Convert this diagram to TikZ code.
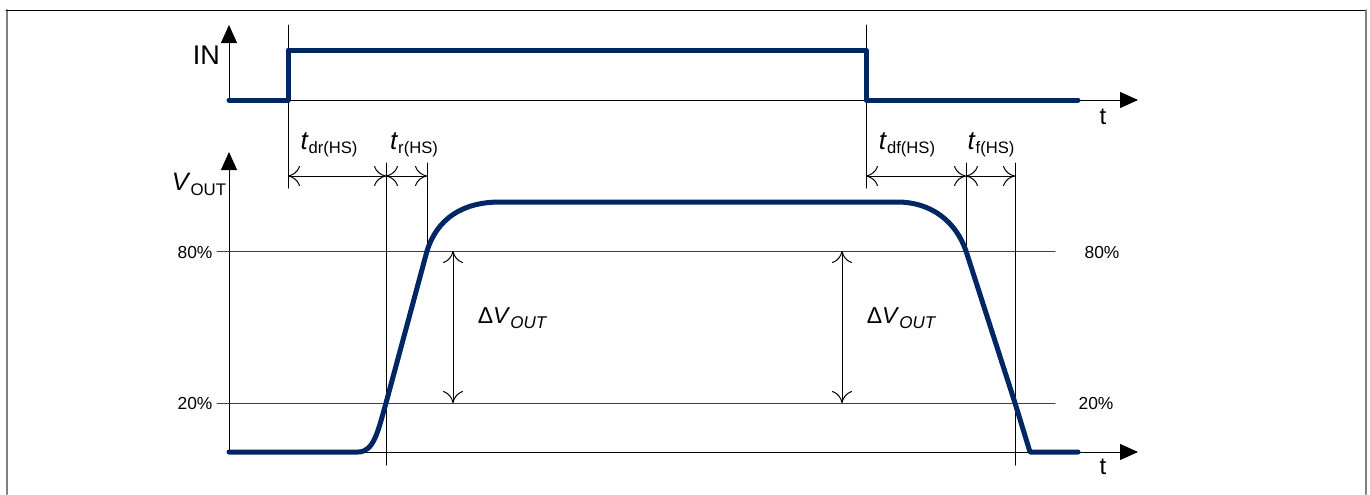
\documentclass[tikz,border=0pt]{standalone}
\usepackage{fontspec}
\setmainfont{Liberation Sans}
\usetikzlibrary{arrows.meta}
\definecolor{wavecol}{RGB}{0,38,100}
\newcommand{\tlab}[1]{\textit{t}\raisebox{-2pt}{\fontsize{8.3}{9}\selectfont #1}}
\newcommand{\vlab}[1]{\textit{V}\raisebox{-2.5pt}{\fontsize{8.4}{9}\selectfont #1}}
\begin{document}
\begin{tikzpicture}[x=.5pt, y=-.5pt, line join=round, line cap=round,
		wave/.style={wavecol, line width=2.5pt},
		axis/.style={line width=.5pt, -{Triangle[length=9pt,width=8pt]}},
		level/.style={black!75, line width=.5pt},
		guide/.style={line width=.5pt},
		dim/.style={line width=.5pt, {To[length=6pt,width=10pt]}-{To[length=6pt,width=10pt]}},
		big/.style={font=\fontsize{13.5}{15}\selectfont},
		pct/.style={font=\fontsize{8.7}{10}\selectfont},
		tfont/.style={font=\fontsize{13}{15}\selectfont},
		dv/.style={font=\fontsize{11.5}{13}\selectfont}]
		\useasboundingbox(0,0)rectangle(1370,494);
		% frame
		\draw[gray, line width=1pt](7,494)--(7,10);
		\draw[line width=.5pt](6,10)--(1366,10);
		\draw[gray, line width=1pt](1366,10)--(1366,494);
		% input
		\draw[axis](229,100)--(229,25);
		\draw[axis](229,100)--(1138,100);
		\node[big, anchor=east] (inlab) at (227,55) {IN};
		\node[font=\fontsize{12}{14}\selectfont] (tin) at (1103,117) {t};
		\draw[guide](288,25)--(288,188);
		\draw[guide](866,25)--(866,188);
		\draw[wave](229,100)--(288,100)--(288,50)--(866,50)--(866,100)--(1078,100);
		% output
		\draw[axis](229,452)--(229,152);
		\draw[axis](229,452)--(1138,452);
		\node[font=\fontsize{12.6}{14}\selectfont] (vout) at (199,184) {\vlab{OUT}};
		\node[font=\fontsize{12}{14}\selectfont] (tout) at (1103,467) {t};
		\draw[level](217,251)--(1055,251);
		\draw[level](217,403)--(1055,403);
		\node[pct] (p80a) at (195,253) {80\%};
		\node[pct] (p20a) at (195,403) {20\%};
		\node[pct] (p80b) at (1102,253) {80\%};
		\node[pct] (p20b) at (1096,403) {20\%};
		\draw[guide](386,163)--(386,465);
		\draw[guide](427,163)--(427,251);
		\draw[guide](966,163)--(966,251);
		\draw[guide](1015,163)--(1015,465);
		\draw[dim](288,176)--(386,176);
		\draw[dim](386,176)--(427,176);
		\draw[dim](866,176)--(966,176);
		\draw[dim](966,176)--(1015,176);
		\node[tfont] (tdr) at (329,145) {\tlab{dr(HS)}};
		\node[tfont] (tr) at (414,145) {\tlab{r(HS)}};
		\node[tfont] (tdf) at (907,145) {\tlab{df(HS)}};
		\node[tfont] (tf) at (991,145) {\tlab{f(HS)}};
		\draw[dim](453,251)--(453,403);
		\draw[dim](842,251)--(842,403);
		\node[dv] (dva) at (512,318) {Δ\textit{V}\raisebox{-2.5pt}{\fontsize{8.5}{9}\selectfont\itshape OUT}};
		\node[dv] (dvb) at (901,318) {Δ\textit{V}\raisebox{-2.5pt}{\fontsize{8.5}{9}\selectfont\itshape OUT}};
		\draw[wave](229,452)--(358,452)..controls(374,452)and(378,431)..(386,403)--(427,251)
			..controls(437,219)and(462,202)..(500,202)--(897,202)
			..controls(932,202)and(956,222)..(966,251)--(1015,403)--(1030,452)--(1078,452);
	\end{tikzpicture}
\end{document}
